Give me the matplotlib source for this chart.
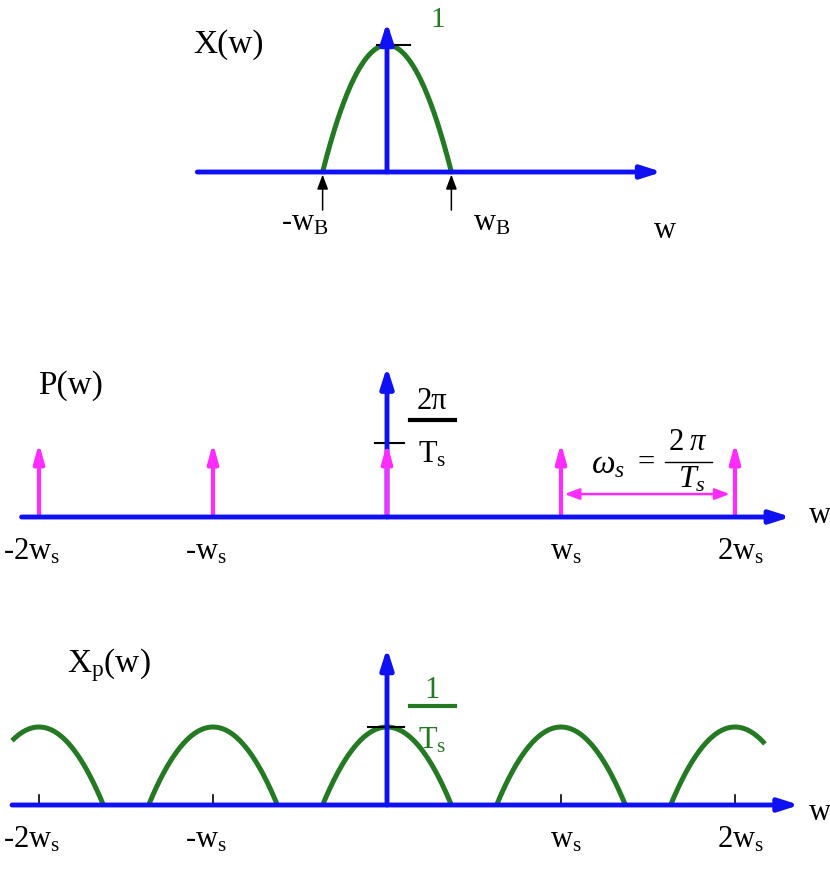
import numpy as np
import matplotlib
matplotlib.use("Agg")
import matplotlib.pyplot as plt

plt.rcParams['font.family'] = ['Liberation Serif', 'DejaVu Serif']
plt.rcParams['mathtext.fontset'] = 'custom'
plt.rcParams['mathtext.rm'] = 'Liberation Serif'
plt.rcParams['mathtext.it'] = 'Liberation Serif:italic'

BLUE = '#1010f5'
GREEN = '#237a23'
MAGENTA = '#ff2cff'

# frequencies in units of the sampling frequency ws
w_B = 0.37
impulse_k = [-2, -1, 0, 1, 2]
impulse_labels = ['-2w$_\\mathrm{s}$', '-w$_\\mathrm{s}$', 'w$_\\mathrm{s}$', '2w$_\\mathrm{s}$']
label_k = [-2, -1, 1, 2]
x_peak = 1.0          # X(0)
p_height = 1.0        # impulse weight 2π/Ts
xp_peak = 1.0         # Xp peak 1/Ts
xp_range = (-2.155, 2.172)

W, H = 830, 869
fig = plt.figure(figsize=(W / 100, H / 100), dpi=100)


def band(top, bottom, base, unit):
    """Axes spanning a horizontal strip of the figure (pixel rows top..bottom)."""
    ax = fig.add_axes([0, 1 - bottom / H, 1, (bottom - top) / H])
    ax.set_xlim(-387 / 174, (W - 387) / 174)
    ax.set_ylim((base - bottom) / unit, (base - top) / unit)
    ax.axis('off')
    return ax


def arrow(ax, x0, y0, x1, y1, color, lw=3.5, scale=16, hl=0.75, hw=0.24, style='-|>'):
    ax.annotate('', xy=(x1, y1), xytext=(x0, y0),
                arrowprops=dict(arrowstyle=f'{style},head_length={hl},head_width={hw}',
                                color=color, lw=lw, mutation_scale=scale,
                                shrinkA=0, shrinkB=0))


def hump(u, peak):
    return peak * (1 - (u / w_B) ** 2)


# ---- X(w) ----
ax1 = band(0, 260, 172, 127)
arrow(ax1, -1.09, 0, 1.58, 0, BLUE)
arrow(ax1, 0, 0, 0, 1.18, BLUE)
u = np.linspace(-w_B, w_B, 200)
ax1.plot(u, hump(u, x_peak), color=GREEN, lw=3.6, solid_capstyle='round')
ax1.plot([-0.06, 0.13], [x_peak, x_peak], color='black', lw=1.5)
for s in (-1, 1):
    arrow(ax1, s * w_B, -0.30, s * w_B, -0.02, 'black', lw=1.1, scale=11, hl=0.8, hw=0.3)
ax1.text(-0.47, -0.40, '-w$_\\mathrm{B}$', fontsize=22, ha='center', va='center')
ax1.text(0.60, -0.40, 'w$_\\mathrm{B}$', fontsize=22, ha='center', va='center')
ax1.text(1.60, -0.46, 'w', fontsize=22, ha='center', va='center')
ax1.text(-0.91, 1.0, 'X(w)', fontsize=24, ha='center', va='center')
ax1.text(0.29, 1.2, '1', fontsize=21, color=GREEN, ha='center', va='center')

# ---- P(w) ----
ax2 = band(340, 580, 517, 74)
arrow(ax2, 0, 0, 0, 2.03, BLUE)
for k in impulse_k:
    arrow(ax2, k, 0, k, p_height, MAGENTA, lw=3, scale=14, hl=0.8, hw=0.22)
arrow(ax2, -2.1, 0, 2.32, 0, BLUE)
ax2.plot([-0.07, 0.10], [p_height, p_height], color='black', lw=1.5)
ax2.text(0.26, 1.56, '2π', fontsize=22, ha='center', va='center')
ax2.plot([0.13, 0.39], [1.31, 1.31], color='black', lw=3)
ax2.text(0.26, 0.84, 'T$_\\mathrm{s}$', fontsize=22, ha='center', va='center')

# sampling frequency definition, written as a stacked fraction
ax2.text(1.27, 0.70, r'$\omega_s$', fontsize=24, ha='center', va='center')
ax2.text(1.49, 0.72, '=', fontsize=22, ha='center', va='center')
ax2.text(1.73, 1.01, r'$2\;\pi$', fontsize=22, ha='center', va='center')
ax2.plot([1.60, 1.87], [0.74, 0.74], color='black', lw=1.0)
ax2.text(1.75, 0.50, r'$T_s$', fontsize=23, ha='center', va='center')
arrow(ax2, 1.02, 0.31, 1.97, 0.31, MAGENTA, lw=1.8, scale=11, hl=0.8, hw=0.3, style='<|-|>')

ax2.text(-1.82, 1.78, 'P(w)', fontsize=24, ha='center', va='center')
for k, lab in zip(label_k, impulse_labels):
    ax2.text(k + (0.03 if k > 0 else -0.04), -0.47, lab, fontsize=22,
             ha='center', va='center')
ax2.text(2.49, 0.02, 'w', fontsize=22, ha='center', va='center')

# ---- Xp(w) ----
ax3 = band(620, 869, 805, 78)
arrow(ax3, 0, 0, 0, 2.01, BLUE)
for k in impulse_k:
    lo = max(k - w_B, xp_range[0])
    hi = min(k + w_B, xp_range[1])
    u = np.linspace(lo, hi, 200)
    ax3.plot(u, hump(u - k, xp_peak), color=GREEN, lw=3.6, solid_capstyle='butt')
arrow(ax3, -2.155, 0, 2.37, 0, BLUE)
for k in label_k + [0]:
    ax3.plot([k, k], [0, 0.13], color='black', lw=1.2)
ax3.plot([-0.11, 0.10], [xp_peak, xp_peak], color='black', lw=1.5)
ax3.text(0.26, 1.47, '1', fontsize=22, color=GREEN, ha='center', va='center')
ax3.plot([0.13, 0.39], [1.27, 1.27], color=GREEN, lw=3)
ax3.text(0.26, 0.82, 'T$_\\mathrm{s}$', fontsize=22, color=GREEN, ha='center', va='center')
ax3.text(-1.6, 1.8, 'X$_\\mathrm{p}$(w)', fontsize=24, ha='center', va='center')
for k, lab in zip(label_k, impulse_labels):
    ax3.text(k + (0.03 if k > 0 else -0.04), -0.45, lab, fontsize=22,
             ha='center', va='center')
ax3.text(2.49, -0.09, 'w', fontsize=22, ha='center', va='center')

fig.savefig('out.png', dpi=100, facecolor='white')
